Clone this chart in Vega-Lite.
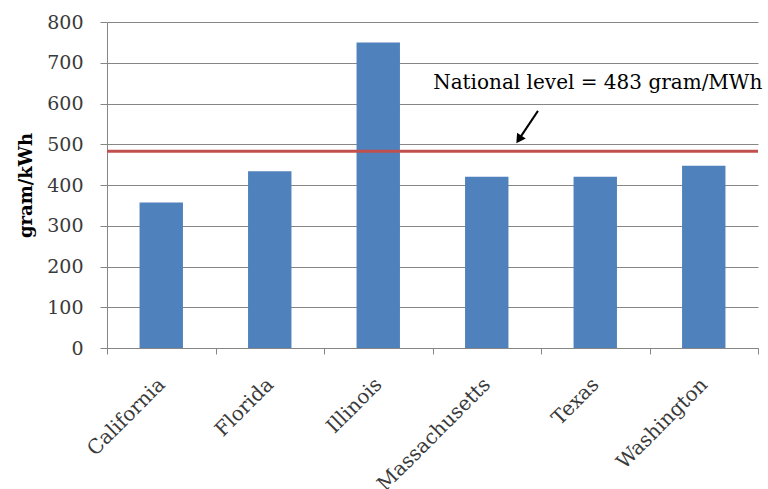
{
  "$schema": "https://vega.github.io/schema/vega-lite/v6.json",
  "width": 651,
  "height": 326,
  "autosize": "none",
  "padding": {"left": 107, "top": 22, "right": 10, "bottom": 141},
  "background": "white",
  "config": {"view": {"stroke": null}, "font": "DejaVu Serif"},
  "layer": [
    {
      "data": {"values": [
        {"state": "California", "value": 357},
        {"state": "Florida", "value": 434},
        {"state": "Illinois", "value": 750},
        {"state": "Massachusetts", "value": 420},
        {"state": "Texas", "value": 420},
        {"state": "Washington", "value": 447}
      ]},
      "mark": {"type": "bar", "color": "#4F81BD", "width": {"band": 0.4}},
      "encoding": {
        "x": {
          "field": "state", "type": "nominal", "sort": null,
          "scale": {"paddingInner": 0, "paddingOuter": 0},
          "axis": {
            "title": null, "labelAngle": -45, "labelFontSize": 20, "labelColor": "#3a3a3a",
            "labelPadding": 20, "labelOffset": -7, "tickBand": "extent", "tickSize": 6, "tickColor": "#868686",
            "domainColor": "#868686", "grid": false
          }
        },
        "y": {
          "field": "value", "type": "quantitative",
          "scale": {"domain": [0, 800], "nice": false},
          "axis": {
            "title": "gram/kWh", "titleFontSize": 18, "titleFontWeight": "bold", "titleColor": "#000000",
            "titlePadding": 11, "values": [0, 100, 200, 300, 400, 500, 600, 700, 800],
            "labelFontSize": 19, "labelColor": "#3a3a3a", "labelPadding": 17, "tickSize": 7,
            "tickColor": "#868686", "domainColor": "#868686", "gridColor": "#868686", "grid": true
          }
        }
      }
    },
    {
      "data": {"values": [{"national": 483}]},
      "mark": {"type": "rule", "color": "#C0504D", "strokeWidth": 3},
      "encoding": {
        "y": {"field": "national", "type": "quantitative"}
      }
    },
    {
      "layer": [
        {
          "data": {"values": [{"label": "National level = 483 gram/MWh", "px": 0.501, "val": 636}]},
          "mark": {"type": "text", "align": "left", "baseline": "alphabetic", "fontSize": 20, "color": "#000000"},
          "encoding": {
            "x": {"field": "px", "type": "quantitative", "scale": {"domain": [0, 1]}, "axis": null},
            "y": {"field": "val", "type": "quantitative"},
            "text": {"field": "label"}
          }
        },
        {
          "data": {"values": [{"x1": 0.662, "y1": 582, "x2": 0.634, "y2": 515}]},
          "mark": {"type": "rule", "color": "#000000", "strokeWidth": 2},
          "encoding": {
            "x": {"field": "x1", "type": "quantitative", "scale": {"domain": [0, 1]}, "axis": null},
            "x2": {"field": "x2"},
            "y": {"field": "y1", "type": "quantitative"},
            "y2": {"field": "y2"}
          }
        },
        {
          "data": {"values": [{"px": 0.634, "val": 515}]},
          "mark": {"type": "point", "shape": "triangle", "angle": 214, "size": 110, "filled": true, "color": "#000000", "opacity": 1},
          "encoding": {
            "x": {"field": "px", "type": "quantitative", "scale": {"domain": [0, 1]}, "axis": null},
            "y": {"field": "val", "type": "quantitative"}
          }
        }
      ]
    }
  ],
  "resolve": {"scale": {"x": "independent"}}
}
